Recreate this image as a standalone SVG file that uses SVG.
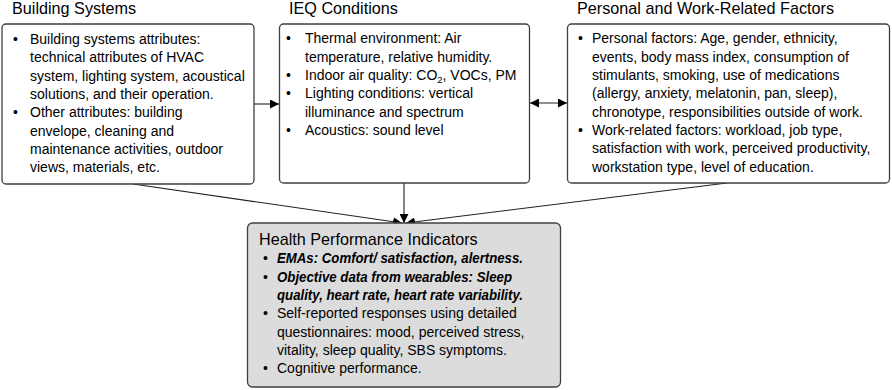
<svg xmlns="http://www.w3.org/2000/svg" width="892" height="390" viewBox="0 0 892 390">
<defs>
<marker id="ah" viewBox="0 0 10 10" refX="10" refY="5" markerWidth="9" markerHeight="9" markerUnits="userSpaceOnUse" orient="auto-start-reverse">
<path d="M0,0 L10,5 L0,10 z" fill="#000"/>
</marker>
<style>
.box{fill:#fff;stroke:#404040;stroke-width:1.3}
.hbox{fill:#dcdcdc;stroke:#404040;stroke-width:1.3}
.ttl{font-family:"Liberation Sans",Arial,sans-serif;font-size:16.2px;fill:#000}
.t{font-family:"Liberation Sans",Arial,sans-serif;font-size:14px;fill:#000}
.bi{font-weight:bold;font-style:italic}
.con{stroke:#222;stroke-width:1.1;fill:none}
</style>
</defs>
<g id="connectors">
<line class="con" x1="254" y1="104" x2="279" y2="104" marker-end="url(#ah)"/>
<line class="con" x1="530" y1="103" x2="567" y2="103" marker-start="url(#ah)" marker-end="url(#ah)"/>
<line class="con" x1="133" y1="184" x2="402" y2="223" marker-end="url(#ah)"/>
<line class="con" x1="404" y1="183" x2="404" y2="223" marker-end="url(#ah)"/>
<line class="con" x1="727" y1="183" x2="406" y2="223" marker-end="url(#ah)"/>
</g>
<g id="building-systems">
<text class="ttl" x="12" y="14">Building Systems</text>
<rect class="box" x="2" y="24" width="252" height="160" rx="4"/>
<text class="t"><tspan x="13" y="44">•</tspan><tspan x="30" y="44">Building systems attributes:</tspan>
<tspan x="30" y="62.3">technical attributes of HVAC</tspan>
<tspan x="30" y="80.7">system, lighting system, acoustical</tspan>
<tspan x="30" y="99">solutions, and their operation.</tspan>
<tspan x="13" y="117.3">•</tspan><tspan x="30" y="117.3">Other attributes: building</tspan>
<tspan x="30" y="135.7">envelope, cleaning and</tspan>
<tspan x="30" y="154">maintenance activities, outdoor</tspan>
<tspan x="30" y="172.3">views, materials, etc.</tspan></text>
</g>
<g id="ieq-conditions">
<text class="ttl" x="289" y="14">IEQ Conditions</text>
<rect class="box" x="279.5" y="24" width="250" height="159" rx="4"/>
<text class="t"><tspan x="286" y="43.3">•</tspan><tspan x="305" y="43.3">Thermal environment: Air</tspan>
<tspan x="305" y="61.7">temperature, relative humidity.</tspan>
<tspan x="286" y="80">•</tspan><tspan x="305" y="80">Indoor air quality: CO</tspan><tspan font-size="9.5px" dy="3">2</tspan><tspan dy="-3">, VOCs, PM</tspan>
<tspan x="286" y="98.3">•</tspan><tspan x="305" y="98.3">Lighting conditions: vertical</tspan>
<tspan x="305" y="116.7">illuminance and spectrum</tspan>
<tspan x="286" y="135">•</tspan><tspan x="305" y="135">Acoustics: sound level</tspan></text>
</g>
<g id="personal-work-factors">
<text class="ttl" x="577" y="14">Personal and Work-Related Factors</text>
<rect class="box" x="567.5" y="24" width="322" height="159" rx="4"/>
<text class="t"><tspan x="578" y="43.3">•</tspan><tspan x="592" y="43.3">Personal factors: Age, gender, ethnicity,</tspan>
<tspan x="592" y="61.7">events, body mass index, consumption of</tspan>
<tspan x="592" y="80">stimulants, smoking, use of medications</tspan>
<tspan x="592" y="98.3">(allergy, anxiety, melatonin, pan, sleep),</tspan>
<tspan x="592" y="116.7">chronotype, responsibilities outside of work.</tspan>
<tspan x="578" y="135">•</tspan><tspan x="592" y="135">Work-related factors: workload, job type,</tspan>
<tspan x="592" y="153.3">satisfaction with work, perceived productivity,</tspan>
<tspan x="592" y="171.7">workstation type, level of education.</tspan></text>
</g>
<g id="health-performance">
<rect class="hbox" x="247.5" y="223" width="313" height="164" rx="5"/>
<text class="ttl" x="259" y="245">Health Performance Indicators</text>
<text class="t" x="263" y="263.3">•</text>
<text class="t bi" x="277" y="263.3" textLength="246" lengthAdjust="spacingAndGlyphs">EMAs: Comfort/ satisfaction, alertness.</text>
<text class="t" x="263" y="281.7">•</text>
<text class="t bi" x="277" y="281.7" textLength="235" lengthAdjust="spacingAndGlyphs">Objective data from wearables: Sleep</text>
<text class="t bi" x="277" y="300" textLength="246" lengthAdjust="spacingAndGlyphs">quality, heart rate, heart rate variability.</text>
<text class="t"><tspan x="263" y="318.3">•</tspan><tspan x="277" y="318.3">Self-reported responses using detailed</tspan>
<tspan x="277" y="336.7">questionnaires: mood, perceived stress,</tspan>
<tspan x="277" y="355">vitality, sleep quality, SBS symptoms.</tspan>
<tspan x="263" y="373.3">•</tspan><tspan x="277" y="373.3">Cognitive performance.</tspan></text>
</g>
</svg>
